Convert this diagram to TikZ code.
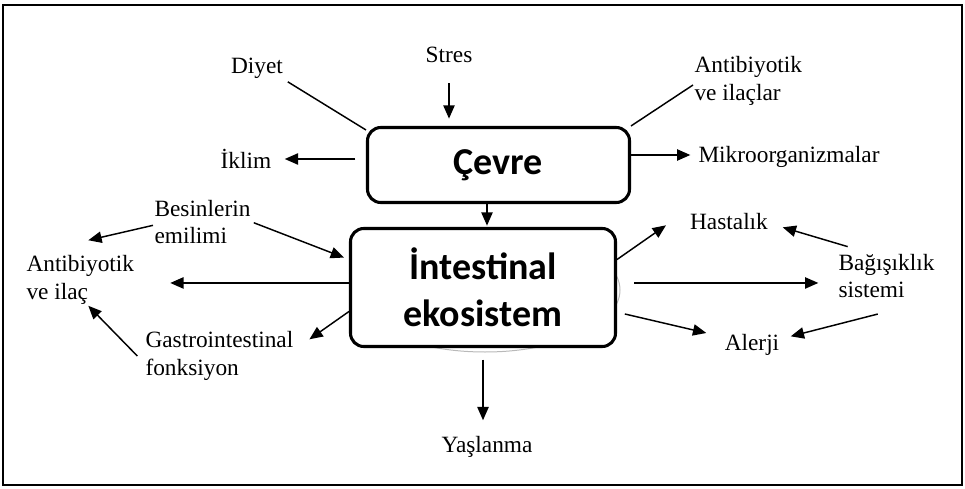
\documentclass[tikz,border=0pt]{standalone}
\usepackage{fontspec}
\setmainfont{Liberation Serif}
\newfontfamily\boxfont{Carlito}
\usetikzlibrary{arrows.meta}

\tikzset{every picture/.style={line width=0.75pt}}
\tikzset{
  lbl/.style={inner sep=0.75pt, font=\fontsize{17.5}{20.5}\selectfont, align=left},
  envbox/.style={draw, line width=2.3pt, rounded corners=10pt, fill=white, align=center,
    font=\boxfont\bfseries\fontsize{28.5}{35}\selectfont},
  arr/.style={line width=1.1pt, -{Triangle[length=10pt,width=8.5pt]}},
}

\begin{document}
\begin{tikzpicture}[x=0.75pt,y=0.75pt,yscale=-1,xscale=1]
\useasboundingbox (0,0) rectangle (965,489);

%Shape: Rectangle [frame]
\draw [line width=1.6pt] (3,5) rectangle (962,485) ;
%Shape: Ellipse [behind the box]
\draw [gray!55] (485,290) ellipse (135 and 62) ;

% Box Nodes
\node [envbox, minimum width=196.5pt, minimum height=56.25pt] (cevre) at (498.5,165) {Çevre};
\node [envbox, minimum width=198.75pt, minimum height=88.5pt] (intestinal) at (483,287.5) {İntestinal\\ekosistem};

% Text Nodes
\node [lbl] (stres) at (449,55) {Stres};
\node [lbl] (diyet) at (257,68) {Diyet};
\node [lbl, anchor=west] (antiilaclar) at (693,81) {Antibiyotik\\ve ilaçlar};
\node [lbl] (iklim) at (246,159) {İklim};
\node [lbl, anchor=west] (mikro) at (697,157) {Mikroorganizmalar};
\node [lbl, anchor=west] (besin) at (153,222) {Besinlerin\\emilimi};
\node [lbl, anchor=west] (antiilac) at (25,280) {Antibiyotik\\ve ilaç};
\node [lbl, anchor=west] (gastro) at (144,356) {Gastrointestinal\\fonksiyon};
\node [lbl] (hastalik) at (729,222) {Hastalık};
\node [lbl, anchor=west] (bagisik) at (837,276) {Bağışıklık\\sistemi};
\node [lbl] (alerji) at (752,345) {Alerji};
\node [lbl] (yaslanma) at (487,447) {Yaşlanma};

%Straight Lines [into the environment]
\draw [arr, shorten <=14pt, shorten >=5.5pt] (stres.south) -- (stres.south |- cevre.north) ;
\draw [line width=1.1pt, shorten <=3pt] (diyet.south east) -- ([yshift=3pt]cevre.north west) ;
\draw [line width=1.1pt] ([yshift=3pt]antiilaclar.west) -- (cevre.north east) ;
\draw [arr, shorten <=8pt, shorten >=9pt] (cevre.west |- iklim.east) -- (iklim.east) ;
\draw [arr, shorten >=5pt] ([yshift=-1.5pt]cevre.east |- mikro.west) -- ([yshift=-1.5pt]mikro.west) ;
\draw [arr, shorten >=1pt] ([xshift=3pt]intestinal.north |- cevre.south) -- ([xshift=3pt]intestinal.north) ;

%Straight Lines [left side]
\draw [arr] ([yshift=2.5pt]besin.west) -- ([shift={(6pt,-10.5pt)}]antiilac.north) ;
\draw [arr, shorten <=1.5pt, shorten >=4pt] (besin.east) -- ([yshift=-21pt]intestinal.west) ;
\draw [arr, shorten >=26pt] ([yshift=-3.4pt]intestinal.west) -- ([yshift=-3.4pt]intestinal.west -| antiilac.east) ;
\draw [arr] ([yshift=18pt]intestinal.west) -- ([shift={(11pt,-12.5pt)}]gastro.east) ;
\draw [arr] ([xshift=-5pt]gastro.west) -- ([xshift=6pt]antiilac.south) ;

%Straight Lines [right side]
\draw [arr] ([yshift=-21pt]intestinal.east) -- ([shift={(-17pt,2.5pt)}]hastalik.west) ;
\draw [arr] ([shift={(8pt,-4.5pt)}]bagisik.north west) -- ([shift={(10pt,4pt)}]hastalik.east) ;
\draw [arr, shorten <=13pt, shorten >=14pt] ([yshift=-3.4pt]intestinal.east) -- ([yshift=-3.4pt]intestinal.east -| bagisik.west) ;
\draw [arr, shorten <=6pt] ([yshift=18.5pt]intestinal.east) -- ([shift={(-12.75pt,-9pt)}]alerji.west) ;
\draw [arr] ([shift={(-6.5pt,11pt)}]bagisik.south) -- ([shift={(7.5pt,-6.5pt)}]alerji.east) ;

%Straight Lines [ageing]
\draw [arr, shorten <=8.6pt, shorten >=11pt] (intestinal.south) -- (intestinal.south |- yaslanma.north) ;

\end{tikzpicture}
\end{document}
